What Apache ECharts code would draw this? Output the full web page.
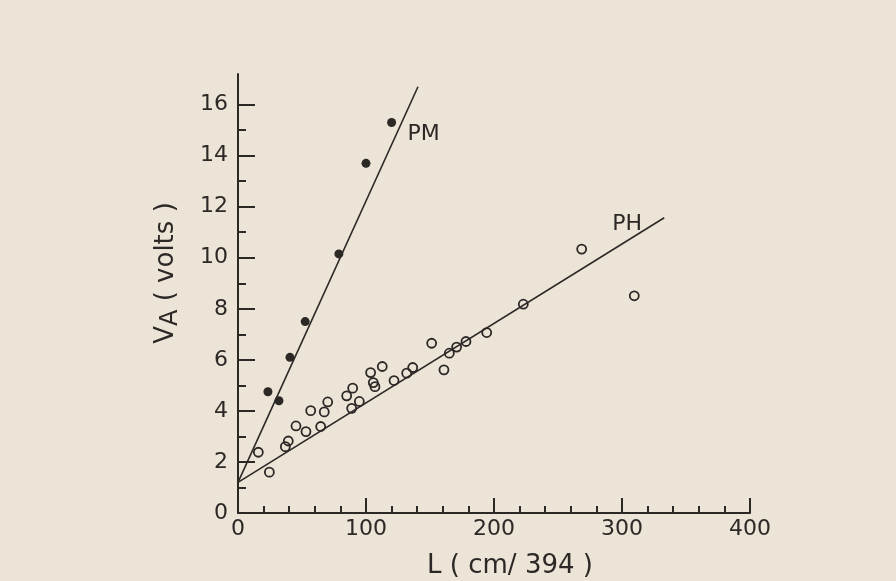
<!DOCTYPE html>
<html>
<head>
<meta charset="utf-8">
<script src="https://cdn.jsdelivr.net/npm/echarts@6/dist/echarts.min.js"></script>
<style>
html,body{margin:0;padding:0;background:#ece4d7;}
#chart{width:896px;height:581px;}
</style>
</head>
<body>
<div id="chart"></div>
<script>
// PM (filled points)
const pmX = [23.4, 32, 40.6, 52.5, 78.8, 100, 120];
const pmY = [4.75, 4.4, 6.1, 7.5, 10.15, 13.7, 15.3];
// PH (open points)
const phX = [15.9, 24.5, 37, 39.3, 45.3, 53.1, 56.8, 64.6, 67.4, 70.1, 84.9, 89.6, 88.8, 94.8, 103.6, 105.7, 107, 112.7, 121.9, 131.8, 136.5, 151.3, 160.9, 165.1, 170.8, 178.1, 194.3, 222.9, 268.5, 309.6];
const phY = [2.38, 1.6, 2.6, 2.82, 3.41, 3.19, 4.01, 3.39, 3.96, 4.35, 4.59, 4.89, 4.1, 4.37, 5.5, 5.11, 4.95, 5.74, 5.19, 5.48, 5.7, 6.65, 5.61, 6.26, 6.5, 6.72, 7.07, 8.18, 10.34, 8.51];
// fitted straight lines (end points)
const pmLineX = [0, 140.6];
const pmLineY = [1.2, 16.7];
const phLineX = [0, 333];
const phLineY = [1.2, 11.57];
// line labels
const lineNames = ['PM', 'PH'];
const lineLabelX = [145, 304];
const lineLabelY = [14.82, 11.3];
// ticks
const xTicks = [0, 100, 200, 300, 400];
const yMajor = [0, 2, 4, 6, 8, 10, 12, 14, 16];
const yMinor = [1, 3, 5, 7, 9, 11, 13, 15];
const xName = 'L ( cm/ 394 )';
const yName = ' ( volts )';

const ink = '#2b2826';
const font = 'DejaVu Sans';
const zip = (a, b) => a.map((v, i) => [v, b[i]]);

const chart = echarts.init(document.getElementById('chart'), null, {renderer: 'canvas'});
chart.setOption({
  backgroundColor: '#ece4d7',
  animation: false,
  grid: {left: 238, right: 146, top: 74, bottom: 68},
  xAxis: {
    type: 'value', min: 0, max: 400, interval: 100,
    axisLine: {show: true, lineStyle: {color: ink, width: 2}},
    axisTick: {show: true, inside: true, length: 15, lineStyle: {color: ink, width: 2}},
    minorTick: {show: true, splitNumber: 5, length: 7, lineStyle: {color: ink, width: 2}},
    splitLine: {show: false},
    axisLabel: {color: ink, fontFamily: font, fontSize: 22, margin: 5,
      formatter: v => xTicks.includes(v) ? String(v) : ''}
  },
  yAxis: [{
    type: 'value', min: 0, max: 17.2,
    axisLine: {show: true, onZero: false, lineStyle: {color: ink, width: 2}},
    axisTick: {show: true, inside: true, length: 17, customValues: yMajor, lineStyle: {color: ink, width: 2}},
    splitLine: {show: false},
    axisLabel: {color: ink, fontFamily: font, fontSize: 22, margin: 10, customValues: yMajor}
  }, {
    type: 'value', min: 0, max: 17.2, position: 'left',
    axisLine: {show: false},
    axisTick: {show: true, inside: true, length: 8, customValues: yMinor, lineStyle: {color: ink, width: 2}},
    splitLine: {show: false},
    axisLabel: {show: false}
  }],
  graphic: [{
    type: 'text', x: 166, y: 273, rotation: Math.PI / 2,
    style: {
      text: '{v|V}{s|A}{n|' + yName + '}',
      align: 'center', verticalAlign: 'middle',
      rich: {
        v: {fontFamily: font, fontSize: 26, fill: ink, color: ink},
        s: {fontFamily: font, fontSize: 24, fill: ink, color: ink, padding: [10, 0, 0, 0]},
        n: {fontFamily: font, fontSize: 26, fill: ink, color: ink}
      }
    }
  }, {
    type: 'text', x: 510, y: 566,
    style: {text: xName, fontFamily: font, fontSize: 26, fill: ink, align: 'center', verticalAlign: 'middle'}
  }],
  series: [{
    type: 'line', data: zip(pmLineX, pmLineY), symbol: 'none',
    lineStyle: {color: ink, width: 1.6, opacity: 1}, silent: true
  }, {
    type: 'line', data: zip(phLineX, phLineY), symbol: 'none',
    lineStyle: {color: ink, width: 1.6, opacity: 1}, silent: true
  }, {
    type: 'scatter', data: zip(pmX, pmY), symbol: 'circle', symbolSize: 9,
    itemStyle: {color: ink, opacity: 1}
  }, {
    type: 'scatter', data: zip(phX, phY), symbol: 'circle', symbolSize: 9,
    itemStyle: {color: 'rgba(0,0,0,0)', borderColor: ink, borderWidth: 1.8, opacity: 1}
  }, {
    type: 'scatter', symbolSize: 0,
    data: lineNames.map((n, i) => ({name: n, value: [lineLabelX[i], lineLabelY[i]]})),
    itemStyle: {opacity: 1},
    label: {show: true, position: 'inside', formatter: p => p.name, color: ink, opacity: 1, fontFamily: font, fontSize: 22}
  }]
});
</script>
</body>
</html>
